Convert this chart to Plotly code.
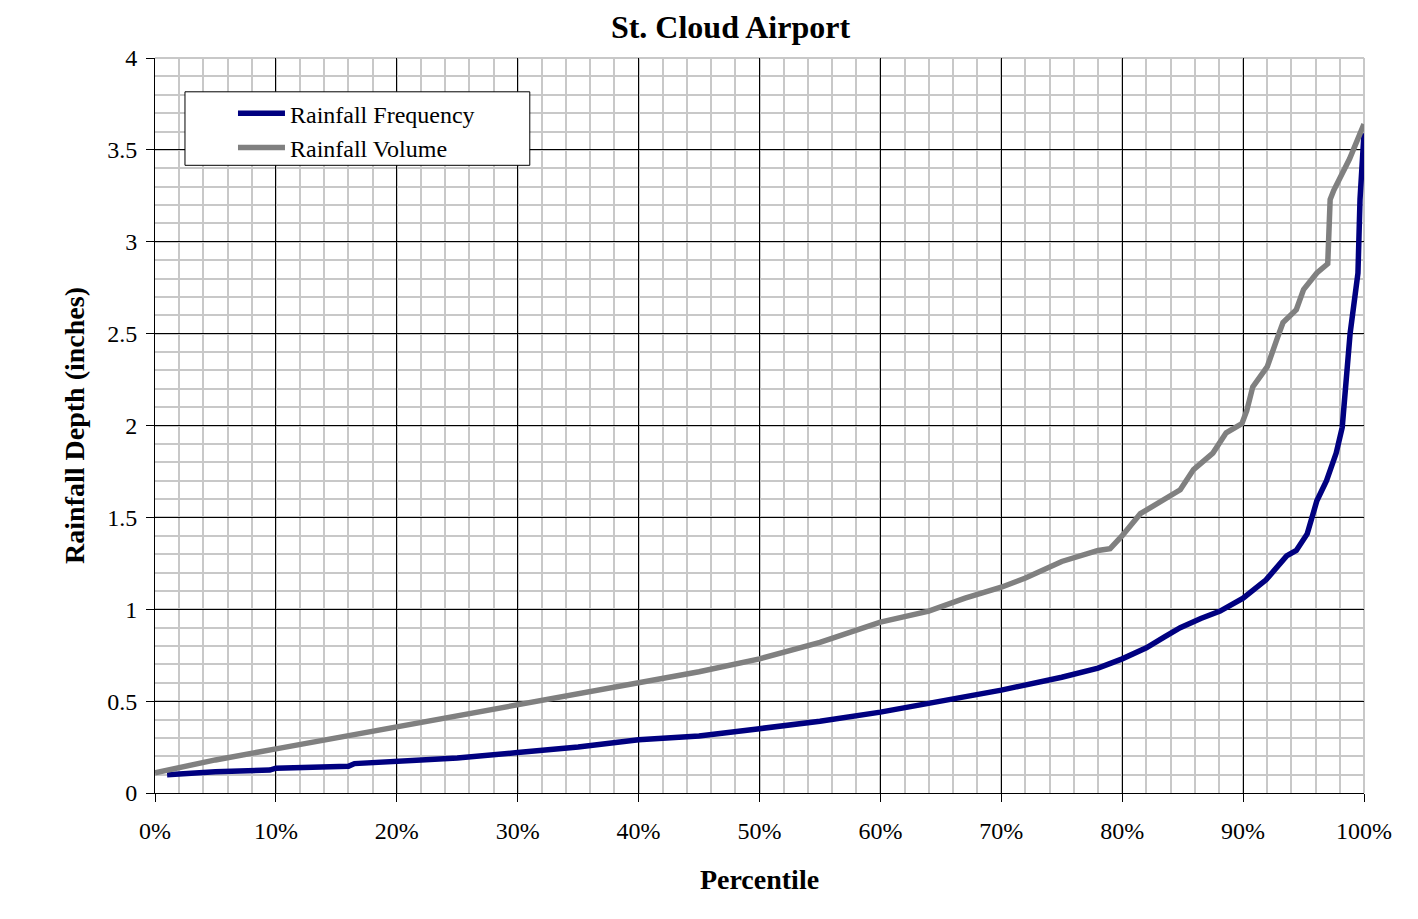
import plotly.graph_objects as go

# percentile (fraction) and rainfall depth (inches)
freq_pct = [0.010, 0.030, 0.050, 0.070, 0.095, 0.100, 0.130, 0.160, 0.165, 0.200,
            0.250, 0.300, 0.350, 0.400, 0.450, 0.500, 0.550, 0.600, 0.650, 0.700,
            0.750, 0.780, 0.800, 0.820, 0.835, 0.848, 0.865, 0.881, 0.900, 0.919,
            0.936, 0.944, 0.953, 0.957, 0.961, 0.969, 0.977, 0.982, 0.9885, 0.995,
            0.9967, 1.000]
freq_depth = [0.10, 0.11, 0.115, 0.12, 0.125, 0.135, 0.14, 0.145, 0.16, 0.17,
              0.19, 0.22, 0.25, 0.29, 0.31, 0.35, 0.39, 0.44, 0.50, 0.56,
              0.63, 0.68, 0.73, 0.79, 0.85, 0.90, 0.95, 0.99, 1.06, 1.16,
              1.29, 1.32, 1.41, 1.50, 1.59, 1.70, 1.85, 1.99, 2.50, 2.83,
              3.23, 3.59]

vol_pct = [0.000, 0.050, 0.100, 0.150, 0.200, 0.250, 0.300, 0.350, 0.400, 0.450,
           0.500, 0.550, 0.600, 0.640, 0.670, 0.700, 0.720, 0.750, 0.780, 0.790,
           0.800, 0.815, 0.848, 0.859, 0.875, 0.886, 0.899, 0.903, 0.908, 0.920,
           0.928, 0.933, 0.944, 0.950, 0.961, 0.970, 0.972, 0.975, 0.988, 1.000]
vol_depth = [0.11, 0.18, 0.24, 0.30, 0.36, 0.42, 0.48, 0.54, 0.60, 0.66,
             0.73, 0.82, 0.93, 0.99, 1.06, 1.12, 1.17, 1.26, 1.32, 1.33,
             1.40, 1.52, 1.65, 1.76, 1.85, 1.96, 2.01, 2.08, 2.21, 2.32,
             2.47, 2.56, 2.63, 2.74, 2.83, 2.88, 3.23, 3.28, 3.45, 3.64]

x_ticks = [i / 10 for i in range(11)]
y_ticks = [0, 0.5, 1, 1.5, 2, 2.5, 3, 3.5, 4]
y_tick_labels = ["0", "0.5", "1", "1.5", "2", "2.5", "3", "3.5", "4"]

serif = "Liberation Serif, Times New Roman, serif"
minor_grey = "#c8c8c8"

fig = go.Figure()
fig.add_trace(go.Scatter(x=freq_pct, y=freq_depth, mode="lines", name="Rainfall Frequency",
                         line=dict(color="#000080", width=5.5)))
fig.add_trace(go.Scatter(x=vol_pct, y=vol_depth, mode="lines", name="Rainfall Volume",
                         line=dict(color="#808080", width=5.5)))

# Excel-style plot-area border: grey on top and right, legend box drawn as a shape
fig.add_shape(type="line", xref="paper", yref="paper", x0=0, x1=1, y0=1, y1=1,
              line=dict(color=minor_grey, width=2), layer="between")
fig.add_shape(type="line", xref="paper", yref="paper", x0=1, x1=1, y0=0, y1=1,
              line=dict(color=minor_grey, width=2), layer="between")
fig.add_shape(type="rect", xref="paper", yref="paper", x0=0.0248, x1=0.310, y0=0.854, y1=0.954,
              line=dict(color="black", width=1), fillcolor="white", layer="above")

fig.update_layout(
    width=1418, height=919,
    margin=dict(l=147, r=62, t=50, b=134),
    paper_bgcolor="white", plot_bgcolor="white",
    font=dict(family=serif, color="black", size=24),
    title=dict(text="<b>St. Cloud Airport</b>", x=0.5095, xanchor="center",
               y=0.979, yanchor="middle", font=dict(size=32)),
    legend=dict(x=0.0645, y=0.955, xanchor="left", yanchor="top",
                bgcolor="rgba(0,0,0,0)", borderwidth=0,
                font=dict(size=24), itemwidth=47, tracegroupgap=0),
    showlegend=True,
)

fig.update_xaxes(
    range=[0, 1], tickvals=x_ticks, tickformat=".0%",
    showgrid=True, gridcolor="black", gridwidth=1,
    minor=dict(dtick=0.02, showgrid=True, gridcolor=minor_grey, gridwidth=2),
    showline=True, linecolor="black", linewidth=1,
    ticks="outside", ticklen=8, tickcolor="black",
    ticklabelstandoff=8, tickfont=dict(size=24),
    zeroline=False,
    title=dict(text="<b>Percentile</b>", font=dict(size=28), standoff=26),
)
fig.update_yaxes(
    range=[0, 4], tickvals=y_ticks, ticktext=y_tick_labels,
    showgrid=True, gridcolor="black", gridwidth=1,
    minor=dict(dtick=0.1, showgrid=True, gridcolor=minor_grey, gridwidth=2),
    showline=True, linecolor="black", linewidth=1,
    ticks="outside", ticklen=8, tickcolor="black",
    ticklabelstandoff=4, tickfont=dict(size=24),
    zeroline=False,
    title=dict(text="<b>Rainfall Depth (inches)</b>", font=dict(size=28), standoff=14),
)

fig.write_html("out.html")
